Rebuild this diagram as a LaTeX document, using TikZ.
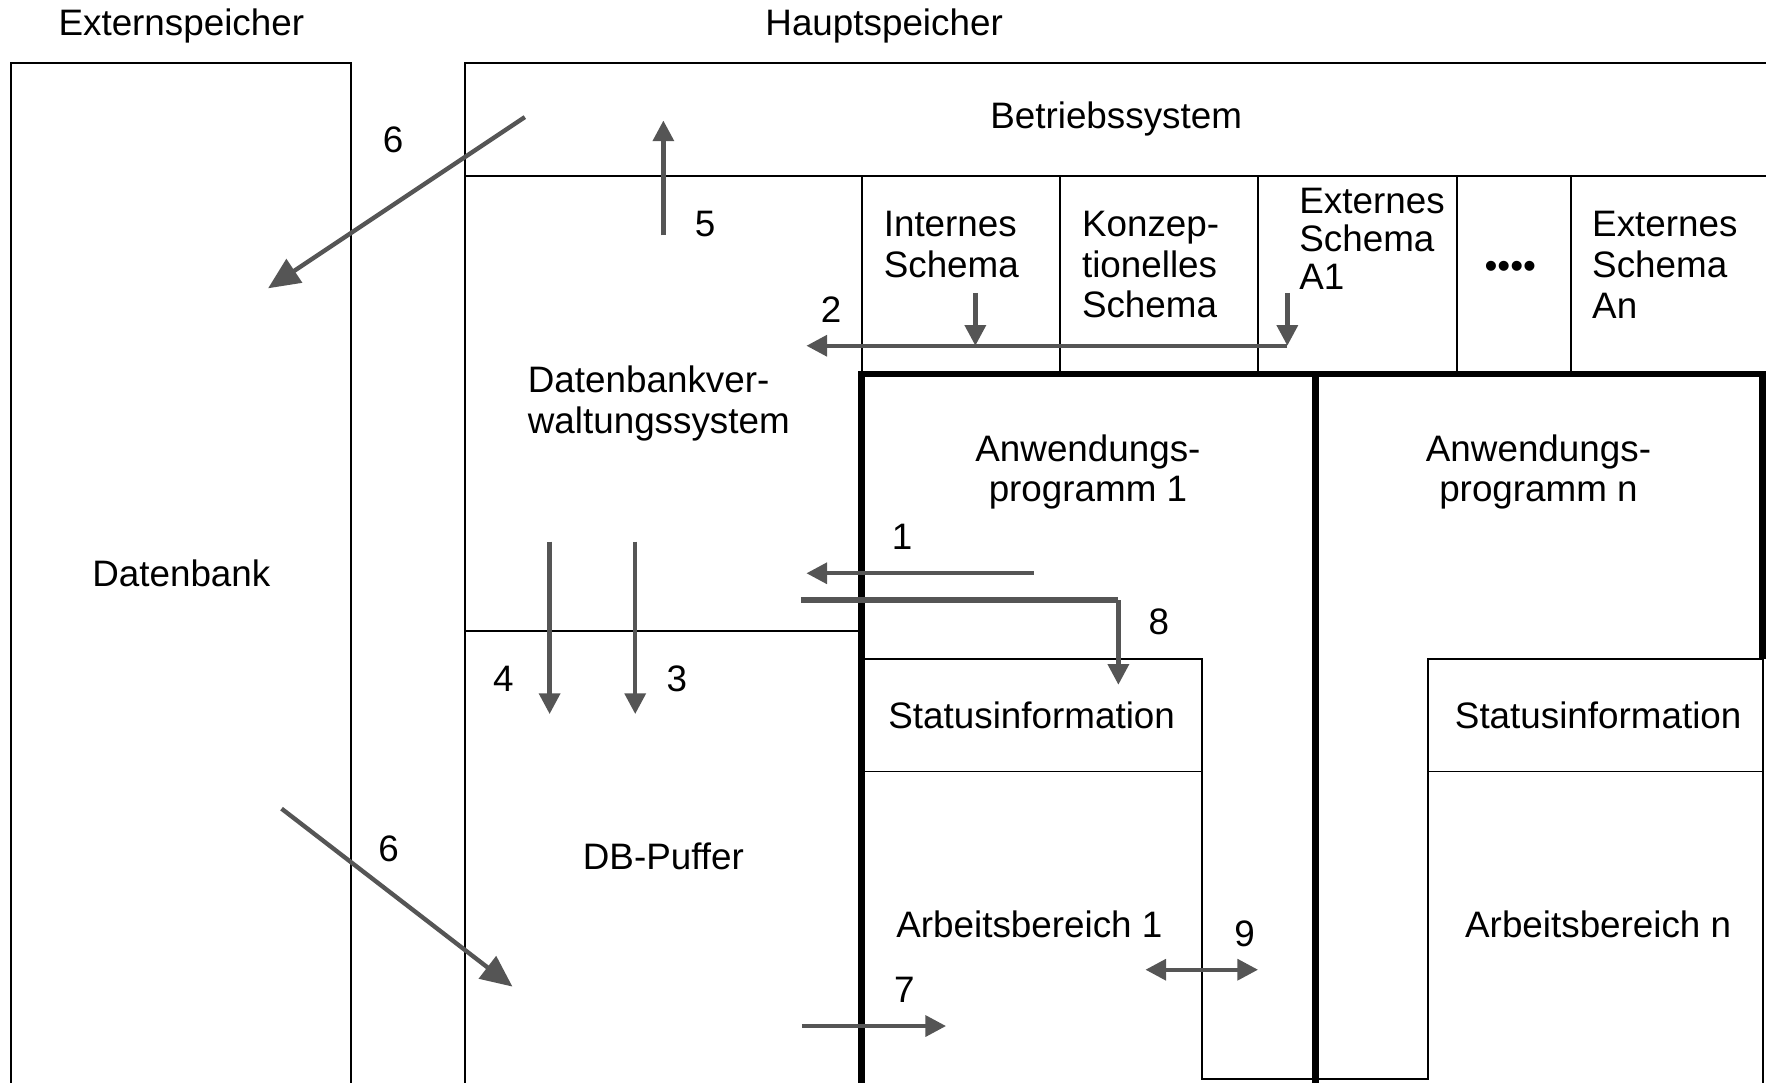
\documentclass[tikz,border=0pt]{standalone}
\usepackage{fontspec}
\setmainfont{Liberation Sans}
\usetikzlibrary{arrows.meta}
\definecolor{pfeil}{HTML}{555555}
\begin{document}
\begin{tikzpicture}[x=0.1mm,y=-0.1mm,font=\fontsize{9.3}{10.3}\selectfont,
  >={Triangle[length=5.2pt,width=5.2pt]},
  box/.style={black,line width=0.5pt},
  wall/.style={black,line width=1.6pt},
  flow/.style={pfeil,line width=1.1pt},
  gross/.style={-{Triangle[length=8pt,width=7pt]}},
  txt/.style={inner sep=0pt,align=left,anchor=west},
  ziffer/.style={inner sep=0pt}]
  \useasboundingbox (0,0) rectangle (1568,961);
  \draw[box] (10,962) -- (10,56) -- (312,56) -- (312,962);
  \draw[box] (413,962) -- (413,56) -- (1568,56);
  \draw[box] (413,156) -- (1568,156);
  \foreach \x in {765,941,1117,1294,1395}
    \draw[box] (\x,156) -- (\x,332);
  \draw[box] (413,560) -- (765,560);
  \draw[box] (765,585) -- (1067,585) -- (1067,958) -- (1268,958) -- (1268,585) -- (1565,585) -- (1565,962);
  \draw[box] (765,685) -- (1067,685);
  \draw[box] (1268,685) -- (1565,685);
  \draw[wall] (765,962) -- (765,332) -- (1565,332) -- (1565,585);
  \draw[wall] (1168,332) -- (1168,962);

  \node (extern) at (161,23) {Externspeicher};
  \node (haupt) at (785,23) {Hauptspeicher};
  \node (db) at (161,509) {Datenbank};
  \node (bs) at (991,106) {Betriebssystem};
  \node[txt] (intern) at (784,217) {Internes\\Schema};
  \node[txt] (konz) at (960,235) {Konzep-\\tionelles\\Schema};
  \node[txt,font=\fontsize{9.3}{9.7}\selectfont] (extA1) at (1153,212) {Externes\\Schema\\A1};
  \node (punkte) at (1341,240) {••••};
  \node[txt] (extAn) at (1413,235) {Externes\\Schema\\An};
  \node[txt] (dbvs) at (468,358) {Datenbankver-\\waltungssystem};
  \node[align=center,inner sep=0pt] (anw1) at (966,419) {Anwendungs-\\programm 1};
  \node[align=center,inner sep=0pt] (anwn) at (1366,419) {Anwendungs-\\programm n};
  \node (puffer) at (589,760) {DB-Puffer};
  \node (stat1) at (916,635) {Statusinformation};
  \node (statn) at (1419,635) {Statusinformation};
  \node (arb1) at (914,821) {Arbeitsbereich 1};
  \node (arbn) at (1419,821) {Arbeitsbereich n};

  \coordinate (a6s) at (466,104);
  \coordinate (a6e) at (238,256);
  \coordinate (a5s) at (589,209);
  \coordinate (a5e) at (589,107);
  \coordinate (a2s) at (1143,307);
  \coordinate (a2e) at (716,307);
  \coordinate (a2i) at (866,260);
  \coordinate (a2x) at (1143,260);
  \coordinate (a1s) at (918,509);
  \coordinate (a1e) at (716,509);
  \coordinate (a8s) at (711,533);
  \coordinate (a8e) at (993,608);
  \coordinate (a4s) at (488,481);
  \coordinate (a4e) at (488,634);
  \coordinate (a3s) at (564,481);
  \coordinate (a3e) at (564,634);
  \coordinate (b6s) at (250,718);
  \coordinate (b6e) at (455,876);
  \coordinate (a7s) at (712,911);
  \coordinate (a7e) at (840,911);
  \coordinate (a9s) at (1017,861);
  \coordinate (a9e) at (1117,861);

  \draw[flow,gross] (a6s) -- (a6e);
  \draw[flow,->] (a5s) -- (a5e);
  \draw[flow,->] (a2s) -- (a2e);
  \draw[flow,->] (a2i) -- (a2i |- a2s);
  \draw[flow,->] (a2x) -- (a2s);
  \draw[flow,->] (a1s) -- (a1e);
  \draw[flow,line width=1.6pt] (a8s) -- (a8s -| a8e);
  \draw[flow,->] (a8s -| a8e) -- (a8e);
  \draw[flow,->] (a4s) -- (a4e);
  \draw[flow,->] (a3s) -- (a3e);
  \draw[flow,gross] (b6s) -- (b6e);
  \draw[flow,->] (a7s) -- (a7e);
  \draw[flow,<->] (a9s) -- (a9e);

  \node[ziffer] (z6a) at (349,124) {6};
  \node[ziffer] (z5) at (626,199) {5};
  \node[ziffer] (z2) at (738,275) {2};
  \node[ziffer] (z1) at (801,477) {1};
  \node[ziffer] (z8) at (1029,552) {8};
  \node[ziffer] (z4) at (447,603) {4};
  \node[ziffer] (z3) at (601,603) {3};
  \node[ziffer] (z6b) at (345,754) {6};
  \node[ziffer] (z7) at (803,879) {7};
  \node[ziffer] (z9) at (1105,829) {9};
\end{tikzpicture}
\end{document}
